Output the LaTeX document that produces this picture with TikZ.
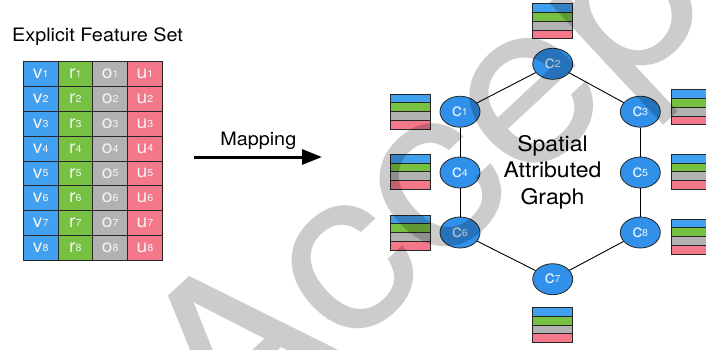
\documentclass[tikz,border=0pt]{standalone}
\usepackage{fontspec}
\setmainfont{TeX Gyre Heros}[FakeStretch=1.07]
\usetikzlibrary{arrows.meta,shapes.geometric}
\definecolor{cblue}{RGB}{66,160,240}
\definecolor{cgreen}{RGB}{118,192,66}
\definecolor{cgray}{RGB}{178,178,178}
\definecolor{cpink}{RGB}{245,120,138}
\definecolor{nodeblue}{RGB}{48,144,234}
\definecolor{celltext}{RGB}{242,244,246}
\newcommand{\cellab}[2]{{\fontsize{18}{18}\selectfont #1}\raisebox{1.2pt}{\fontsize{10}{10}\selectfont #2}}
\tikzset{
  cellbox/.style={draw=black!85, line width=0.8pt, minimum width=34.75pt, minimum height=24.8pt, inner sep=0pt, text=celltext},
  cnode/.style={ellipse, draw=black!85, line width=0.8pt, fill=nodeblue, minimum width=40pt, minimum height=31pt, inner sep=0pt, text=white!88!nodeblue},
  edge/.style={draw=black, line width=0.9pt},
  plain/.style={font=\fontsize{18.5}{18.5}\selectfont, inner sep=0pt},
  big/.style={font=\fontsize{21.5}{21.5}\selectfont, inner sep=0pt, anchor=base},
  feat/.pic={
    \fill[cblue]  (-20,-17.6) rectangle (20,-8.8);
    \fill[cgreen] (-20,-8.8) rectangle (20,0);
    \fill[cgray]  (-20,0) rectangle (20,8.8);
    \fill[cpink]  (-20,8.8) rectangle (20,17.6);
    \draw[black!85, line width=0.8pt] (-20,-17.6) rectangle (20,17.6)
      (-20,-8.8) -- (20,-8.8) (-20,0) -- (20,0) (-20,8.8) -- (20,8.8);
  }
}
\begin{document}
\begin{tikzpicture}[x=1pt,y=-1pt]
\useasboundingbox (0,0) rectangle (706,349);
\clip (0,0) rectangle (706,349);
% title
\node[plain, anchor=base west] (title) at (12,41.7) {Explicit Feature Set};
% table
\foreach \i in {1,...,8}{
  \foreach \c/\col [count=\j from 0] in {v/cblue, r/cgreen, o/cgray, u/cpink}{
    \node[cellbox, fill=\col] (\c\i) at ({23.3+34.75*(\j+0.5)}, {61.7+24.8*(\i-0.5)}) {\cellab{\c}{\i}};
  }
}
% mapping arrow
\coordinate (a1) at (194,157);
\coordinate (a2) at (322,157);
\draw[line width=3pt, -{Triangle[length=20pt,width=15pt]}] (a1) -- (a2);
\node[plain, anchor=base] (maplab) at (258.3,145) {Mapping};
% graph nodes
\node[cnode] (c2) at (552.7,63.8) {\cellab{c}{2}};
\node[cnode] (c1) at (460,111.7) {\cellab{c}{1}};
\node[cnode] (c3) at (640.3,111.7) {\cellab{c}{3}};
\node[cnode] (c4) at (460,172.5) {\cellab{c}{4}};
\node[cnode] (c5) at (640.3,172.5) {\cellab{c}{5}};
\node[cnode] (c6) at (460,232.5) {\cellab{c}{6}};
\node[cnode] (c8) at (640.3,232.5) {\cellab{c}{8}};
\node[cnode] (c7) at (552.7,279.2) {\cellab{c}{7}};
\draw[edge] (c2) -- (c1);
\draw[edge] (c2) -- (c3);
\draw[edge] (c1) -- (c4);
\draw[edge] (c3) -- (c5);
\draw[edge] (c4) -- (c6);
\draw[edge] (c5) -- (c8);
\draw[edge] (c6) -- (c7);
\draw[edge] (c8) -- (c7);
% graph label
\node[big] (sag1) at (552.5,151.7) {Spatial};
\node[big] (sag2) at (552.5,177.3) {Attributed};
\node[big] (sag3) at (552.5,204) {Graph};
% feature stacks
\pic at (552.7,21.2) {feat};
\pic at (410.5,111.6) {feat};
\pic at (410.5,171.8) {feat};
\pic at (410.5,232.6) {feat};
\pic at (691,107.2) {feat};
\pic at (691,171.8) {feat};
\pic at (691,236.5) {feat};
\pic at (552.7,325) {feat};
% watermark
\node[rotate=43, anchor=base west, font=\fontsize{225}{225}\selectfont, text=black, text opacity=0.2, inner sep=0pt] (wm) at (231,462) {Accepted};
\end{tikzpicture}
\end{document}
